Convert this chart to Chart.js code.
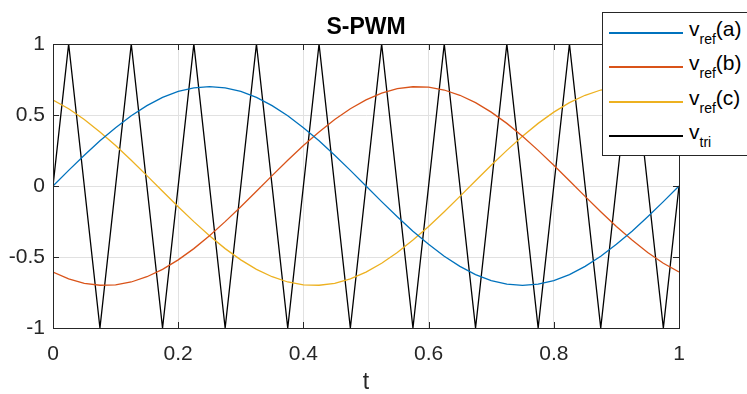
<!DOCTYPE html>
<html>
<head>
<meta charset="utf-8">
<script src="https://cdn.jsdelivr.net/npm/chart.js@4.4.1/dist/chart.umd.min.js"></script>
<style>
    html, body { margin: 0; padding: 0; background: #fff; overflow: hidden; }
    #wrap { position: relative; width: 747px; height: 394px; }
    #legend {
        position: absolute; left: 602px; top: 12px; width: 170px; height: 144px;
        border: 1px solid #262626; background: #fff; box-sizing: border-box;
        font-family: "Liberation Sans", Arial, sans-serif; color: #000;
    }
    .row { position: absolute; left: 0; width: 100%; height: 34px; }
    .swatch { position: absolute; left: 6px; top: 16px; width: 74px; height: 2px; }
    .label { position: absolute; left: 86px; top: 1px; font-size: 21px; line-height: 24px; white-space: nowrap; }
    .label .sub { font-size: 14px; vertical-align: -8px; }
</style>
</head>
<body>
<div id="wrap">
    <canvas id="pwmChart" width="747" height="394"></canvas>
    <div id="legend"></div>
</div>
<script>
// Time samples for the reference sines (step 0.025)
const tRef = [
    0, 0.025, 0.05, 0.075, 0.1, 0.125, 0.15, 0.175, 0.2, 0.225,
    0.25, 0.275, 0.3, 0.325, 0.35, 0.375, 0.4, 0.425, 0.45, 0.475,
    0.5, 0.525, 0.55, 0.575, 0.6, 0.625, 0.65, 0.675, 0.7, 0.725,
    0.75, 0.775, 0.8, 0.825, 0.85, 0.875, 0.9, 0.925, 0.95, 0.975, 1
];

// v_ref(a), v_ref(b), v_ref(c) (amplitude ~0.7)
const vrefA = [
    0, 0.110, 0.216, 0.318, 0.411, 0.495, 0.566, 0.624, 0.666, 0.691,
    0.700, 0.691, 0.666, 0.624, 0.566, 0.495, 0.411, 0.318, 0.216, 0.110,
    0, -0.110, -0.216, -0.318, -0.411, -0.495, -0.566, -0.624, -0.666, -0.691,
    -0.700, -0.691, -0.666, -0.624, -0.566, -0.495, -0.411, -0.318, -0.216, -0.110, 0
];
const vrefB = [
    -0.606, -0.654, -0.685, -0.699, -0.696, -0.676, -0.639, -0.587, -0.520, -0.441,
    -0.350, -0.251, -0.146, -0.037, 0.073, 0.181, 0.285, 0.381, 0.468, 0.544,
    0.606, 0.654, 0.685, 0.699, 0.696, 0.676, 0.639, 0.587, 0.520, 0.441,
    0.350, 0.251, 0.146, 0.037, -0.073, -0.181, -0.285, -0.381, -0.468, -0.544, -0.606
];
const vrefC = [
    0.606, 0.544, 0.468, 0.381, 0.285, 0.181, 0.073, -0.037, -0.146, -0.251,
    -0.350, -0.441, -0.520, -0.587, -0.639, -0.676, -0.696, -0.699, -0.685, -0.654,
    -0.606, -0.544, -0.468, -0.381, -0.285, -0.181, -0.073, 0.037, 0.146, 0.251,
    0.350, 0.441, 0.520, 0.587, 0.639, 0.676, 0.696, 0.699, 0.685, 0.654, 0.606
];

// Carrier triangle corners
const tTri = [
    0, 0.025, 0.075, 0.125, 0.175, 0.225, 0.275, 0.325, 0.375, 0.425, 0.475,
    0.525, 0.575, 0.625, 0.675, 0.725, 0.775, 0.825, 0.875, 0.925, 0.975, 1
];
const vTri = [
    0, 1, -1, 1, -1, 1, -1, 1, -1, 1, -1,
    1, -1, 1, -1, 1, -1, 1, -1, 1, -1, 0
];

const xTicks = [0, 0.2, 0.4, 0.6, 0.8, 1];
const yTicks = [-1, -0.5, 0, 0.5, 1];

const seriesNames = [
    ['v', 'ref', '(a)'],
    ['v', 'ref', '(b)'],
    ['v', 'ref', '(c)'],
    ['v', 'tri', '']
];
const seriesColors = ['#0072BD', '#D95319', '#EDB120', '#000000'];

const FONT = '"Liberation Sans", Arial, sans-serif';
const AXIS_COLOR = '#262626';

function toPoints(xs, ys) {
    return xs.map((x, i) => ({ x: x, y: ys[i] }));
}

// Box + inward ticks, MATLAB style
const boxTicks = {
    id: 'boxTicks',
    afterDatasetsDraw(chart) {
        const { ctx, chartArea: a, scales } = chart;
        const len = 6;
        ctx.save();
        ctx.strokeStyle = AXIS_COLOR;
        ctx.lineWidth = 1;
        ctx.beginPath();
        xTicks.forEach(v => {
            const px = Math.round(scales.x.getPixelForValue(v)) + 0.5;
            ctx.moveTo(px, a.bottom); ctx.lineTo(px, a.bottom - len);
            ctx.moveTo(px, a.top); ctx.lineTo(px, a.top + len);
        });
        yTicks.forEach(v => {
            const py = Math.round(scales.y.getPixelForValue(v)) + 0.5;
            ctx.moveTo(a.left, py); ctx.lineTo(a.left + len, py);
            ctx.moveTo(a.right, py); ctx.lineTo(a.right - len, py);
        });
        ctx.stroke();
        ctx.strokeRect(Math.round(a.left) + 0.5, Math.round(a.top) + 0.5,
            Math.round(a.right - a.left), Math.round(a.bottom - a.top));
        ctx.restore();
    }
};

const datasets = [vrefA, vrefB, vrefC].map((vals, i) => ({
    label: seriesNames[i].join(''),
    data: toPoints(tRef, vals),
    borderColor: seriesColors[i],
    borderWidth: 1.3,
    pointRadius: 0,
    tension: 0,
    fill: false
}));
datasets.push({
    label: seriesNames[3].join(''),
    data: toPoints(tTri, vTri),
    borderColor: seriesColors[3],
    borderWidth: 1.3,
    pointRadius: 0,
    tension: 0,
    fill: false
});

const ctx = document.getElementById('pwmChart').getContext('2d');
const chart = new Chart(ctx, {
    type: 'line',
    data: { datasets: datasets },
    options: {
        responsive: false,
        animation: false,
        devicePixelRatio: 1,
        layout: { padding: { top: 0, right: 68, left: 0, bottom: 0 } },
        plugins: {
            legend: { display: false },
            tooltip: { enabled: false },
            title: {
                display: true,
                text: 'S-PWM',
                fullSize: false,
                color: '#000',
                font: { family: FONT, size: 23, weight: 'bold', lineHeight: 1.2 },
                padding: { top: 14, bottom: 2.4 }
            }
        },
        scales: {
            x: {
                type: 'linear',
                min: 0,
                max: 1,
                afterFit: s => { s.height = 66; },
                afterBuildTicks: s => { s.ticks = xTicks.map(v => ({ value: v })); },
                ticks: {
                    color: AXIS_COLOR, font: { family: FONT, size: 21 }, padding: 14, maxRotation: 0,
                    callback: v => String(v)
                },
                grid: { color: '#e1e1e1', drawTicks: false },
                border: { color: AXIS_COLOR },
                title: {
                    display: true, text: 't', color: AXIS_COLOR,
                    font: { family: FONT, size: 23, lineHeight: 1 }, padding: { top: 0, bottom: 0 }
                }
            },
            y: {
                type: 'linear',
                min: -1,
                max: 1,
                afterFit: s => { s.width = 53; },
                afterBuildTicks: s => { s.ticks = yTicks.map(v => ({ value: v })); },
                ticks: {
                    color: AXIS_COLOR, font: { family: FONT, size: 21 }, padding: 8,
                    callback: v => String(v)
                },
                grid: { color: '#e1e1e1', drawTicks: false },
                border: { color: AXIS_COLOR }
            }
        }
    },
    plugins: [boxTicks]
});

// Legend with subscripts, built from the chart's datasets
const legendEl = document.getElementById('legend');
chart.data.datasets.forEach((ds, i) => {
    const [main, sub, tail] = seriesNames[i];
    const row = document.createElement('div');
    row.className = 'row';
    row.style.top = (3 + i * 34.4) + 'px';
    row.innerHTML =
        '<div class="swatch" style="background:' + ds.borderColor + '"></div>' +
        '<div class="label">' + main + '<span class="sub">' + sub + '</span>' + tail + '</div>';
    legendEl.appendChild(row);
});
</script>
</body>
</html>
